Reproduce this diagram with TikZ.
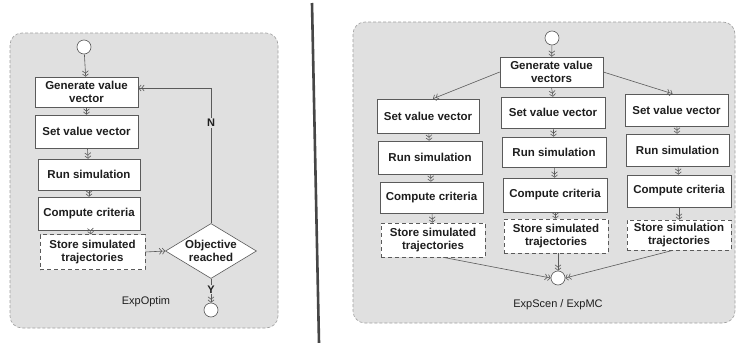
\documentclass[tikz,border=0pt]{standalone}
\usepackage{fontspec}
\setmainfont{Liberation Sans}
\usetikzlibrary{arrows.meta,shapes.geometric}
\definecolor{panelgray}{RGB}{224,224,224}
\definecolor{edgegray}{RGB}{90,90,90}
\definecolor{inkgray}{RGB}{30,30,30}
\tikzset{
  panel/.style={rounded corners=12pt, fill=panelgray, draw=gray!75, line width=0.6pt, densely dashed},
  box/.style={draw=edgegray, fill=white, line width=0.6pt, align=center, inner sep=1pt,
    text=inkgray, font=\bfseries\fontsize{11.5}{13.5}\selectfont},
  dbox/.style={box, dashed, dash pattern=on 4pt off 3pt},
  startend/.style={circle, draw=edgegray, fill=white, line width=0.6pt, minimum size=14pt, inner sep=0pt},
  flow/.style={draw=edgegray, line width=0.6pt,
    -{Straight Barb[length=2.4pt,width=6pt]Straight Barb[length=2.4pt,width=6pt]}},
  plabel/.style={text=inkgray, font=\fontsize{11}{13}\selectfont},
  ylabel/.style={text=inkgray, font=\bfseries\fontsize{11}{13}\selectfont, fill=panelgray, inner sep=1pt},
}
\begin{document}
\begin{tikzpicture}[x=1pt,y=-1pt]
\useasboundingbox (0,0) rectangle (737,343);
\fill[white] (0,0) rectangle (737,343);

% divider
\draw[line width=2.6pt, draw=gray!55!black] (312,3) -- (319,343);

% ---------------- left panel ----------------
\draw[panel] (10,33) rectangle (278,328);
\node[startend] (sL) at (84,47) {};
\node[box, minimum width=103pt, minimum height=30pt] (gL) at (86.5,92) {Generate value\\vector};
\node[box, minimum width=103pt, minimum height=33pt] (vL) at (86.5,131.5) {Set value vector};
\node[box, minimum width=102pt, minimum height=31pt] (rL) at (89,174.5) {Run simulation};
\node[box, minimum width=102pt, minimum height=33pt] (cL) at (89,213.5) {Compute criteria};
\node[dbox, minimum width=105pt, minimum height=35pt] (stL) at (92.5,252) {Store simulated\\trajectories};
\node[diamond, draw=edgegray, fill=white, line width=0.6pt, minimum width=91pt, minimum height=55pt, inner sep=0pt] (dia) at (211,251) {};
\node[box, draw=none, fill=none] (diaT) at (dia) {Objective\\reached};
\node[startend] (eL) at (211,310) {};
\node[plabel] (lblL) at (146,302) {ExpOptim};
\coordinate (loopc) at (211,88);

\draw[flow] (sL) -- (gL);
\draw[flow] (gL) -- (vL);
\draw[flow] (vL) -- (rL);
\draw[flow] (rL) -- (cL);
\draw[flow] (cL) -- (stL);
\draw[flow] (stL.east) -- (dia.west);
\draw[flow] (dia.north) -- node[ylabel, pos=0.74] (nlab) {N} (loopc) -- (gL.east |- loopc);
\draw[flow] (dia.south) -- node[ylabel, pos=0.45] (ylab) {Y} (eL.north);

% ---------------- right panel ----------------
\draw[panel] (353,22) rectangle (735,323);
\node[startend] (sR) at (552,38) {};
\node[box, minimum width=103pt, minimum height=30pt] (gR) at (551.5,72) {Generate value\\vectors};

\node[box, minimum width=102pt, minimum height=34pt] (v1) at (428,116) {Set value vector};
\node[box, minimum width=104pt, minimum height=33pt] (r1) at (430,157.5) {Run simulation};
\node[box, minimum width=103pt, minimum height=31pt] (c1) at (431.5,197.5) {Compute criteria};
\node[dbox, minimum width=104pt, minimum height=34pt] (st1) at (433,240) {Store simulated\\trajectories};

\node[box, minimum width=104pt, minimum height=31pt] (v2) at (553,112.5) {Set value vector};
\node[box, minimum width=104pt, minimum height=30pt] (r2) at (554,152) {Run simulation};
\node[box, minimum width=104pt, minimum height=34pt] (c2) at (555,195) {Compute criteria};
\node[dbox, minimum width=104pt, minimum height=34pt] (st2) at (556,236) {Store simulated\\trajectories};

\node[box, minimum width=103pt, minimum height=32pt] (v3) at (676.5,110) {Set value vector};
\node[box, minimum width=103pt, minimum height=32pt] (r3) at (677.5,150) {Run simulation};
\node[box, minimum width=104pt, minimum height=32pt] (c3) at (679,191) {Compute criteria};
\node[dbox, minimum width=104pt, minimum height=30pt] (st3) at (679,235) {Store simulation\\trajectories};

\node[startend] (eR) at (558,278) {};
\node[plabel] (lblR) at (558,305) {ExpScen / ExpMC};

\draw[flow] (sR) -- (gR);
\draw[flow] (gR.west) -- ([xshift=5pt]v1.north);
\draw[flow] (gR.south) -- (v2.north);
\draw[flow] (gR.east) -- ([xshift=-4pt]v3.north);
\draw[flow] (v1) -- (r1);
\draw[flow] (r1) -- (c1);
\draw[flow] (c1) -- (st1);
\draw[flow] (v2) -- (r2);
\draw[flow] (r2) -- (c2);
\draw[flow] (c2) -- (st2);
\draw[flow] (v3) -- (r3);
\draw[flow] (r3) -- (c3);
\draw[flow] (c3) -- (st3);
\draw[flow] ([xshift=10pt]st1.south) -- (eR.west);
\draw[flow] ([xshift=2pt]st2.south) -- (eR.north);
\draw[flow] ([xshift=-6pt]st3.south) -- (eR.east);
\end{tikzpicture}
\end{document}
